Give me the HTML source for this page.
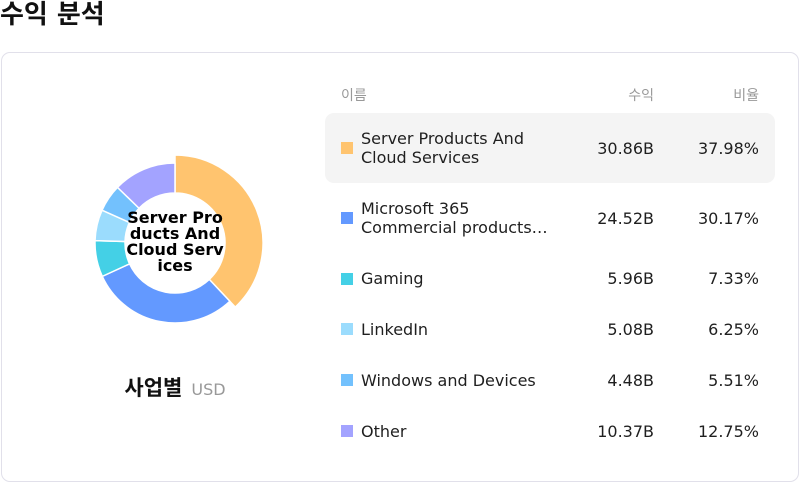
<!DOCTYPE html>
<html>
<head>
<meta charset="utf-8">
<style>
  html,body{margin:0;padding:0;background:#fff;}
  body{width:800px;height:482px;position:relative;overflow:hidden;font-family:"DejaVu Sans","Liberation Sans","Noto Sans CJK KR",sans-serif;color:#1f1f1f;}
  .title{position:absolute;left:0;top:-1px;font-family:"DejaVu Sans","Noto Sans CJK KR",sans-serif;font-weight:bold;font-size:26px;line-height:32px;color:#111;}
  .card{position:absolute;left:1px;top:52px;width:796px;height:428px;border:1px solid #e1e0ea;border-radius:9px;background:#fff;}
  .abs{position:absolute;}
  .hdr{font-size:14px;color:#999;line-height:16px;font-family:"DejaVu Sans","Noto Sans CJK KR",sans-serif;}
  .row-bg{position:absolute;left:325px;top:113px;width:450px;height:70px;border-radius:9px;background:#f4f4f4;}
  .sw{position:absolute;left:341px;width:12px;height:12px;}
  .nm{position:absolute;left:361px;font-size:16px;line-height:19px;white-space:nowrap;color:#1f1f1f;}
  .num{position:absolute;width:120px;text-align:right;font-size:16px;line-height:19px;color:#1f1f1f;white-space:nowrap;}
  .v{left:534px;}
  .p{left:639px;}
</style>
</head>
<body>
<div class="title">수익 분석</div>
<div class="card"></div>

<svg class="abs" style="left:0;top:0" width="800" height="482" viewBox="0 0 800 482">
  <g transform="translate(-1,0)">
  <g stroke="#ffffff" stroke-width="1.5" stroke-linejoin="round">
    <path fill="#FFC46F" d="M176 155 A88 88 0 0 1 236.32 307.09 L210.27 279.42 A50 50 0 0 0 176 193 Z"/>
    <path fill="#6399FF" d="M230.83 301.26 A80 80 0 0 1 103.30 276.38 L130.56 263.87 A50 50 0 0 0 210.27 279.42 Z"/>
    <path fill="#44D0E6" d="M103.30 276.38 A80 80 0 0 1 96.04 240.58 L126.02 241.49 A50 50 0 0 0 130.56 263.87 Z"/>
    <path fill="#9BDCFD" d="M96.04 240.58 A80 80 0 0 1 103.05 210.17 L130.40 222.48 A50 50 0 0 0 126.02 241.49 Z"/>
    <path fill="#73C1FD" d="M103.05 210.17 A80 80 0 0 1 118.50 187.37 L140.06 208.23 A50 50 0 0 0 130.40 222.48 Z"/>
    <path fill="#A3A3FF" d="M118.50 187.37 A80 80 0 0 1 176 163 L176 193 A50 50 0 0 0 140.06 208.23 Z"/>
  </g>
  </g>
  <g font-family="DejaVu Sans, Liberation Sans, sans-serif" font-weight="bold" font-size="16" fill="#000" text-anchor="middle">
    <text x="175" y="223">Server Pro</text>
    <text x="175" y="239">ducts And</text>
    <text x="175" y="255">Cloud Serv</text>
    <text x="175" y="271">ices</text>
  </g>
</svg>

<div class="abs" style="left:0;width:350px;top:374px;text-align:center;line-height:28px;white-space:nowrap;">
  <span style="font-family:'DejaVu Sans','Noto Sans CJK KR',sans-serif;font-weight:bold;font-size:21px;color:#111;">사업별</span><span style="font-size:16px;color:#999;margin-left:9px;">USD</span>
</div>

<!-- header -->
<div class="abs hdr" style="left:341px;top:88px;">이름</div>
<div class="abs hdr" style="left:554px;width:100px;text-align:right;top:88px;">수익</div>
<div class="abs hdr" style="left:659px;width:100px;text-align:right;top:88px;">비율</div>

<div class="row-bg"></div>

<!-- row 1 -->
<div class="sw" style="top:142px;background:#FFC46F;"></div>
<div class="nm" style="top:129px;">Server Products And<br>Cloud Services</div>
<div class="num v" style="top:139px;">30.86B</div>
<div class="num p" style="top:139px;">37.98%</div>

<!-- row 2 -->
<div class="sw" style="top:212px;background:#6399FF;"></div>
<div class="nm" style="top:199px;">Microsoft 365<br>Commercial products…</div>
<div class="num v" style="top:209px;">24.52B</div>
<div class="num p" style="top:209px;">30.17%</div>

<!-- row 3 -->
<div class="sw" style="top:273px;background:#44D0E6;"></div>
<div class="nm" style="top:269px;">Gaming</div>
<div class="num v" style="top:269px;">5.96B</div>
<div class="num p" style="top:269px;">7.33%</div>

<!-- row 4 -->
<div class="sw" style="top:323px;background:#9BDCFD;"></div>
<div class="nm" style="top:320px;">LinkedIn</div>
<div class="num v" style="top:320px;">5.08B</div>
<div class="num p" style="top:320px;">6.25%</div>

<!-- row 5 -->
<div class="sw" style="top:374px;background:#73C1FD;"></div>
<div class="nm" style="top:371px;">Windows and Devices</div>
<div class="num v" style="top:371px;">4.48B</div>
<div class="num p" style="top:371px;">5.51%</div>

<!-- row 6 -->
<div class="sw" style="top:425px;background:#A3A3FF;"></div>
<div class="nm" style="top:422px;">Other</div>
<div class="num v" style="top:422px;">10.37B</div>
<div class="num p" style="top:422px;">12.75%</div>

</body>
</html>
